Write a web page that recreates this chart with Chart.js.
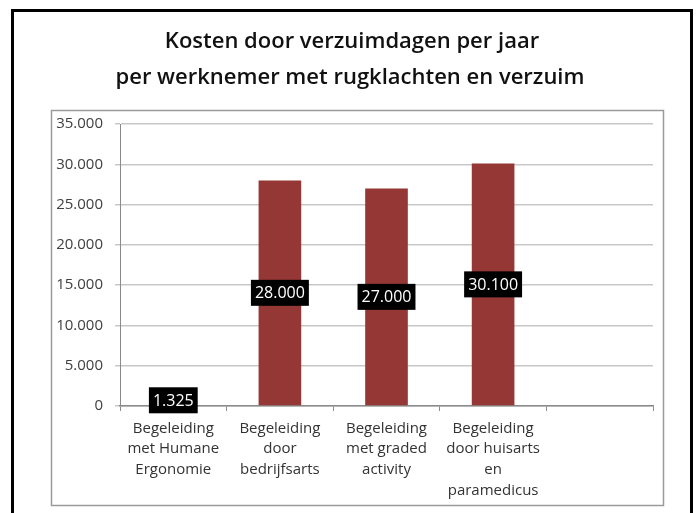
<!DOCTYPE html>
<html>
<head>
<meta charset="utf-8">
<script src="https://cdn.jsdelivr.net/npm/chart.js@4.4.1/dist/chart.umd.min.js"></script>
<style>
    html, body { margin: 0; padding: 0; background: #fff; }
    #wrap { width: 700px; height: 513px; }
</style>
</head>
<body>
<div id="wrap"><canvas id="costChart" width="700" height="513"></canvas></div>
<script>
// chart data
const categories = [
    ['Begeleiding', 'met Humane', 'Ergonomie'],
    ['Begeleiding', 'door', 'bedrijfsarts'],
    ['Begeleiding', 'met graded', 'activity'],
    ['Begeleiding', 'door huisarts', 'en', 'paramedicus'],
    ''
];
const costValues = [1325, 28000, 27000, 30100, null];
const valueLabels = ['1.325', '28.000', '27.000', '30.100', ''];
const titleLines = ['Kosten door verzuimdagen per jaar', 'per werknemer met rugklachten en verzuim'];

const fontFamily = "'Open Sans', 'Noto Sans', sans-serif";

function formatThousands(v) {
    return v.toString().replace(/\B(?=(\d{3})+(?!\d))/g, '.');
}

// draws the frames and the two-line heading
const framePlugin = {
    id: 'frames',
    beforeDraw(chart) {
        const ctx = chart.ctx;
        ctx.save();
        ctx.fillStyle = '#fff';
        ctx.fillRect(0, 0, chart.width, chart.height);
        // outer black frame (bottom edge is off the picture)
        ctx.strokeStyle = '#000';
        ctx.lineWidth = 3;
        ctx.beginPath();
        ctx.moveTo(12.5, 520);
        ctx.lineTo(12.5, 10.5);
        ctx.lineTo(691.5, 10.5);
        ctx.lineTo(691.5, 520);
        ctx.stroke();
        // inner grey chart box
        ctx.strokeStyle = '#9a9a9a';
        ctx.lineWidth = 1.5;
        ctx.strokeRect(51.5, 110.5, 612, 395);
        // heading
        ctx.fillStyle = '#111';
        ctx.font = `600 22px ${fontFamily}`;
        ctx.textAlign = 'center';
        ctx.textBaseline = 'middle';
        ctx.fillText(titleLines[0], 352, 42);
        ctx.fillText(titleLines[1], 350, 78);
        ctx.restore();
    }
};

// black value boxes in the middle of each bar
const valueBoxPlugin = {
    id: 'valueBoxes',
    afterDatasetsDraw(chart) {
        const ctx = chart.ctx;
        const meta = chart.getDatasetMeta(0);
        ctx.save();
        ctx.font = `16px ${fontFamily}`;
        ctx.textAlign = 'center';
        ctx.textBaseline = 'middle';
        meta.data.forEach((bar, i) => {
            const text = valueLabels[i];
            if (!text) return;
            const props = bar.getProps(['x', 'y', 'base'], true);
            const cy = (props.y + props.base) / 2;
            const w = ctx.measureText(text).width + 8;
            const h = 26;
            ctx.fillStyle = '#000';
            ctx.fillRect(props.x - w / 2, cy - h / 2, w, h);
            ctx.fillStyle = '#fff';
            ctx.fillText(text, props.x, cy + 1);
        });
        ctx.restore();
    }
};

const ctx = document.getElementById('costChart').getContext('2d');
new Chart(ctx, {
    type: 'bar',
    data: {
        labels: categories,
        datasets: [{
            data: costValues,
            backgroundColor: '#953735',
            borderWidth: 0,
            barPercentage: 0.4,
            categoryPercentage: 1
        }]
    },
    options: {
        responsive: false,
        animation: false,
        layout: {
            padding: { left: 51, right: 47, top: 124, bottom: 8 }
        },
        plugins: {
            legend: { display: false },
            tooltip: { enabled: false }
        },
        scales: {
            y: {
                min: 0,
                max: 35000,
                ticks: {
                    stepSize: 5000,
                    padding: 12,
                    color: '#404040',
                    font: { family: fontFamily, size: 15 },
                    callback: v => formatThousands(v)
                },
                grid: {
                    color: '#c8c8c8',
                    lineWidth: 1.5,
                    tickLength: 5,
                    drawTicks: true
                },
                border: { color: '#8a8a8a', width: 1 },
                afterFit: scale => { scale.width = 69; }
            },
            x: {
                ticks: {
                    padding: 7,
                    color: '#333',
                    maxRotation: 0,
                    autoSkip: false,
                    font: { family: fontFamily, size: 15, lineHeight: 1.38 }
                },
                grid: {
                    drawOnChartArea: false,
                    drawTicks: true,
                    tickLength: 5,
                    color: '#8a8a8a',
                    offset: true
                },
                border: { color: '#8a8a8a', width: 1.5 },
                afterFit: scale => { scale.height = 99; }
            }
        }
    },
    plugins: [framePlugin, valueBoxPlugin]
});
</script>
</body>
</html>
